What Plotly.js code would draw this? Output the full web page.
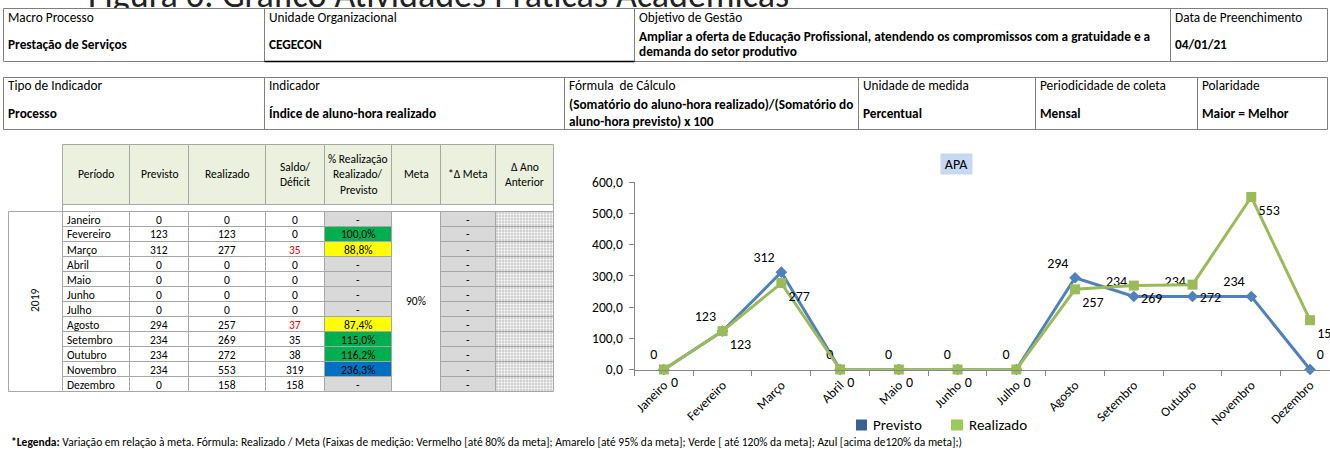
<!DOCTYPE html>
<html><head><meta charset="utf-8">
<script src="https://cdn.plot.ly/plotly-3.0.1.min.js"></script>
<style>html,body{margin:0;padding:0;background:#fff}#chart{width:1330px;height:452px}</style>
</head><body><div id="chart"></div>
<script>
// ---------- DATA ----------
const months = ['Janeiro','Fevereiro','Março','Abril','Maio','Junho','Julho','Agosto','Setembro','Outubro','Novembro','Dezembro'];
const previsto = [0,123,312,0,0,0,0,294,234,234,234,0];
const realizado = [0,123,277,0,0,0,0,257,269,272,553,158];
const saldo = [0,0,35,0,0,0,0,37,35,38,319,158];
const pctRealizacao = [null,100.0,88.8,null,null,null,null,87.4,115.0,116.2,236.3,null];
const deltaMeta = ['-','-','-','-','-','-','-','-','-','-','-','-'];
const metaValue = '90%';
const yearLabel = '2019';
const yTicks = [0,100,200,300,400,500,600];
const tableHeaders = ['Período','Previsto','Realizado','Saldo/\nDéficit','% Realização\nRealizado/\nPrevisto','Meta','*Δ Meta','Δ Ano\nAnterior'];
const info1Labels = ['Macro Processo','Unidade Organizacional','Objetivo de Gestão','Data de Preenchimento'];
const info1Values = ['Prestação de Serviços','CEGECON','Ampliar a oferta de Educação Profissional, atendendo os compromissos com a gratuidade e a\ndemanda do setor produtivo','04/01/21'];
const info2Labels = ['Tipo de Indicador','Indicador','Fórmula  de Cálculo','Unidade de medida','Periodicidade de coleta','Polaridade'];
const info2Values = ['Processo','Índice de aluno-hora realizado','(Somatório do aluno-hora realizado)/(Somatório do\naluno-hora previsto) x 100','Percentual','Mensal','Maior = Melhor'];
const figureTitle = 'Figura 6: Gráfico Atividades Práticas Acadêmicas';
const chartTitle = 'APA';
const seriesNames = ['Previsto','Realizado'];
const footnoteBold = '*Legenda:';
const footnoteText = ' Variação em relação à meta. Fórmula: Realizado / Meta (Faixas de medição: Vermelho [até 80% da meta]; Amarelo [até 95% da meta]; Verde [ até 120% da meta]; Azul [acima de120% da meta];)';

// ---------- STYLE / LAYOUT ----------
const FONT = "Carlito, Calibri, 'Liberation Sans', Arial, sans-serif";
const W = 1330, H = 452;
const px = x => x / W, py = y => 1 - y / H;
const shapes = [], ann = [];
function rect(x0,y0,x1,y1,fill,line,lw){
  shapes.push({type:'rect',xref:'paper',yref:'paper',x0:px(x0),x1:px(x1),y0:py(y1),y1:py(y0),
    fillcolor:fill||'rgba(0,0,0,0)',line:{color:line||'rgba(0,0,0,0)',width:lw===undefined?1:lw},layer:'above'});
}
function vline(x,y0,y1,c,w){
  shapes.push({type:'line',xref:'paper',yref:'paper',x0:px(x),x1:px(x),y0:py(y0),y1:py(y1),line:{color:c,width:w||1},layer:'above'});
}
function hline(x0,x1,y,c,w){
  shapes.push({type:'line',xref:'paper',yref:'paper',x0:px(x0),x1:px(x1),y0:py(y),y1:py(y),line:{color:c,width:w||1},layer:'above'});
}
function txt(x,y,s,o){
  o=o||{};
  const a={xref:'paper',yref:'paper',x:px(x),y:py(y),text:s,showarrow:false,
    xanchor:o.xa||'center',yanchor:o.ya||'middle',
    font:{family:o.family||FONT,size:o.size||10,color:o.color||'#000'},
    textangle:o.angle||0,borderpad:o.pad===undefined?0:o.pad,align:o.align||'center'};
  if(o.bg) a.bgcolor=o.bg;
  if(o.w) a.width=o.w;
  if(o.h) a.height=o.h;
  ann.push(a);
}
function lines(x,yc,s,sp,o){
  const L=s.split('\n');
  L.forEach((l,i)=>txt(x,yc+(i-(L.length-1)/2)*sp,(o&&o.bold)?'<b>'+l+'</b>':l,o));
}

// info table 1
const BC='#808080';
const TS=13.3;
const t1c=[3.5,264.5,634.5,1170.5,1327.5];
rect(t1c[0],8.5,t1c[t1c.length-1],61.5,'#fff',BC);
for(let i=1;i<t1c.length-1;i++) vline(t1c[i],8.5,61.5,BC);
hline(264.5,634.5,61.5,'#000',1.5);
info1Labels.forEach((l,i)=>{
  txt(t1c[i]+3,17,l,{xa:'left',size:TS});
  lines(t1c[i]+3,44,info1Values[i],16,{xa:'left',size:TS,bold:true});
});
// info table 2
const t2c=[3.5,264.5,564.5,858.5,1035.5,1197.5,1327.5];
rect(t2c[0],77.5,t2c[t2c.length-1],129.5,'#fff',BC);
for(let i=1;i<t2c.length-1;i++) vline(t2c[i],77.5,129.5,BC);
info2Labels.forEach((l,i)=>{
  txt(t2c[i]+3,86,l,{xa:'left',size:TS});
  lines(t2c[i]+3,113,info2Values[i],16,{xa:'left',size:TS,bold:true});
});

// main table
const GC='#A6A6A6';
const FS=11.5;
const mc=[62.5,129.5,188.5,265.5,324.5,391.5,440.5,495.5,553.5];
tableHeaders.forEach((h,i)=>{
  rect(mc[i],144.5,mc[i+1],204.5,'#EBF1DE',GC);
  lines((mc[i]+mc[i+1])/2,174.3,h,15.3,{size:FS});
});
rect(mc[0],204.5,mc[8],211.5,'#fff',GC);
const R0=211.5, RH=15;
rect(8.5,R0,mc[0],R0+RH*12,'#fff',GC);
txt(35,301,yearLabel,{size:FS,angle:-90});
function pctColor(v){
  if(v===null) return '#D9D9D9';
  if(v<80) return '#FF0000';
  if(v<=95) return '#FFFF00';
  if(v<=120) return '#00B050';
  return '#0070C0';
}
function fmtPct(v){return v===null?'-':v.toFixed(1).replace('.',',')+'%';}
months.forEach((m,r)=>{
  const y0=R0+r*RH, y1=y0+RH, yc=(y0+y1)/2+0.5;
  const fills=['#fff','#fff','#fff','#fff',pctColor(pctRealizacao[r]),null,'#D9D9D9',null];
  [0,1,2,3,4,6,7].forEach(c=>rect(mc[c],y0,mc[c+1],y1,fills[c],GC));
  txt(mc[0]+3,yc,m,{xa:'left',size:FS});
  txt((mc[1]+mc[2])/2,yc,String(previsto[r]),{size:FS});
  txt((mc[2]+mc[3])/2,yc,String(realizado[r]),{size:FS});
  txt((mc[3]+mc[4])/2,yc,String(saldo[r]),{size:FS,color:realizado[r]<previsto[r]?'#FF0000':'#000'});
  txt((mc[4]+mc[5])/2,yc,fmtPct(pctRealizacao[r]),{size:FS});
  txt((mc[6]+mc[7])/2,yc,deltaMeta[r],{size:FS});
});
rect(mc[5],R0,mc[6],R0+RH*12,'#fff',GC);
txt((mc[5]+mc[6])/2,301,metaValue,{size:FS});

// footnote
txt(10,442,'<b>'+footnoteBold+'</b>'+footnoteText,{xa:'left',size:11.5});

// chart title and legend
txt(956.5,163.5,chartTitle,{bg:'#C6D9F1',w:31,h:20,size:14});
rect(856,419.5,867,430.5,'#3A5F94');
txt(872,425,seriesNames[0],{xa:'left',size:15});
rect(951,419.5,963,430.5,'#9BCB5A');
txt(968,425,seriesNames[1],{xa:'left',size:15});

const previstoLabelPos = months.map((m,i)=> i===months.length-1 ? 'top right' : 'top left');

const traces = [
  // page title, drawn beneath the info table so it is cut off like the source image
  {type:'scatter',mode:'text',x:[88],y:[16],text:[figureTitle],textposition:'top right',
   xaxis:'x4',yaxis:'y4',cliponaxis:false,hoverinfo:'skip',
   textfont:{family:FONT,size:36,color:'#222'}},
  {type:'bar',orientation:'h',x:months.map(()=>1),y:months.map((m,i)=>i),base:0,width:1,
   xaxis:'x3',yaxis:'y3',hoverinfo:'skip',
   marker:{color:'#fff',line:{width:0},pattern:{shape:'.',size:3,solidity:0.3,fgcolor:'#9a9a9a',bgcolor:'#ffffff'}}},
  {type:'scatter',mode:'lines+markers+text',name:seriesNames[0],x:months,y:previsto,
   text:previsto.map(String),textposition:previstoLabelPos,cliponaxis:false,
   line:{color:'#4F81BD',width:3},marker:{symbol:'diamond',size:9,color:'#4F81BD'},
   textfont:{family:FONT,size:14,color:'#000'}},
  {type:'scatter',mode:'lines+markers+text',name:seriesNames[1],x:months,y:realizado,
   text:realizado.map(String),textposition:'bottom right',cliponaxis:false,
   line:{color:'#9BBB59',width:3},marker:{symbol:'square',size:10,color:'#9BBB59'},
   textfont:{family:FONT,size:14,color:'#000'}}
];

const layout = {
  width:W,height:H,margin:{l:0,r:0,t:0,b:0},paper_bgcolor:'#fff',plot_bgcolor:'rgba(0,0,0,0)',
  separators:',.',showlegend:false,hovermode:false,
  xaxis:{domain:[px(634.5),1],type:'category',categoryorder:'array',categoryarray:months,range:[-0.5,11.34],
    tickson:'boundaries',ticks:'outside',ticklen:5,tickcolor:'#868686',tickwidth:1,
    showline:true,linecolor:'#868686',linewidth:1,showgrid:false,zeroline:false,tickangle:-45,
    tickfont:{family:FONT,size:13,color:'#000'},ticklabelstandoff:2,anchor:'y',fixedrange:true},
  yaxis:{domain:[py(369.5),py(182.3)],range:[0,600],tickmode:'array',tickvals:yTicks,tickformat:'.1f',
    ticks:'outside',ticklen:5,tickcolor:'#868686',showline:true,linecolor:'#868686',showgrid:false,zeroline:false,
    tickfont:{family:FONT,size:13.5,color:'#000'},ticklabelstandoff:3,anchor:'x',fixedrange:true},
  xaxis3:{domain:[px(495.5),px(553.5)],range:[0,1],visible:false,anchor:'y3',fixedrange:true},
  yaxis3:{domain:[py(391.5),py(211.5)],range:[11.5,-0.5],visible:false,anchor:'x3',fixedrange:true},
  xaxis4:{domain:[0,1],range:[0,W],visible:false,anchor:'y4',fixedrange:true},
  yaxis4:{domain:[0,1],range:[H,0],visible:false,anchor:'x4',fixedrange:true},
  shapes:shapes,annotations:ann
};
Plotly.newPlot('chart',traces,layout,{staticPlot:true,displayModeBar:false});
</script></body></html>
